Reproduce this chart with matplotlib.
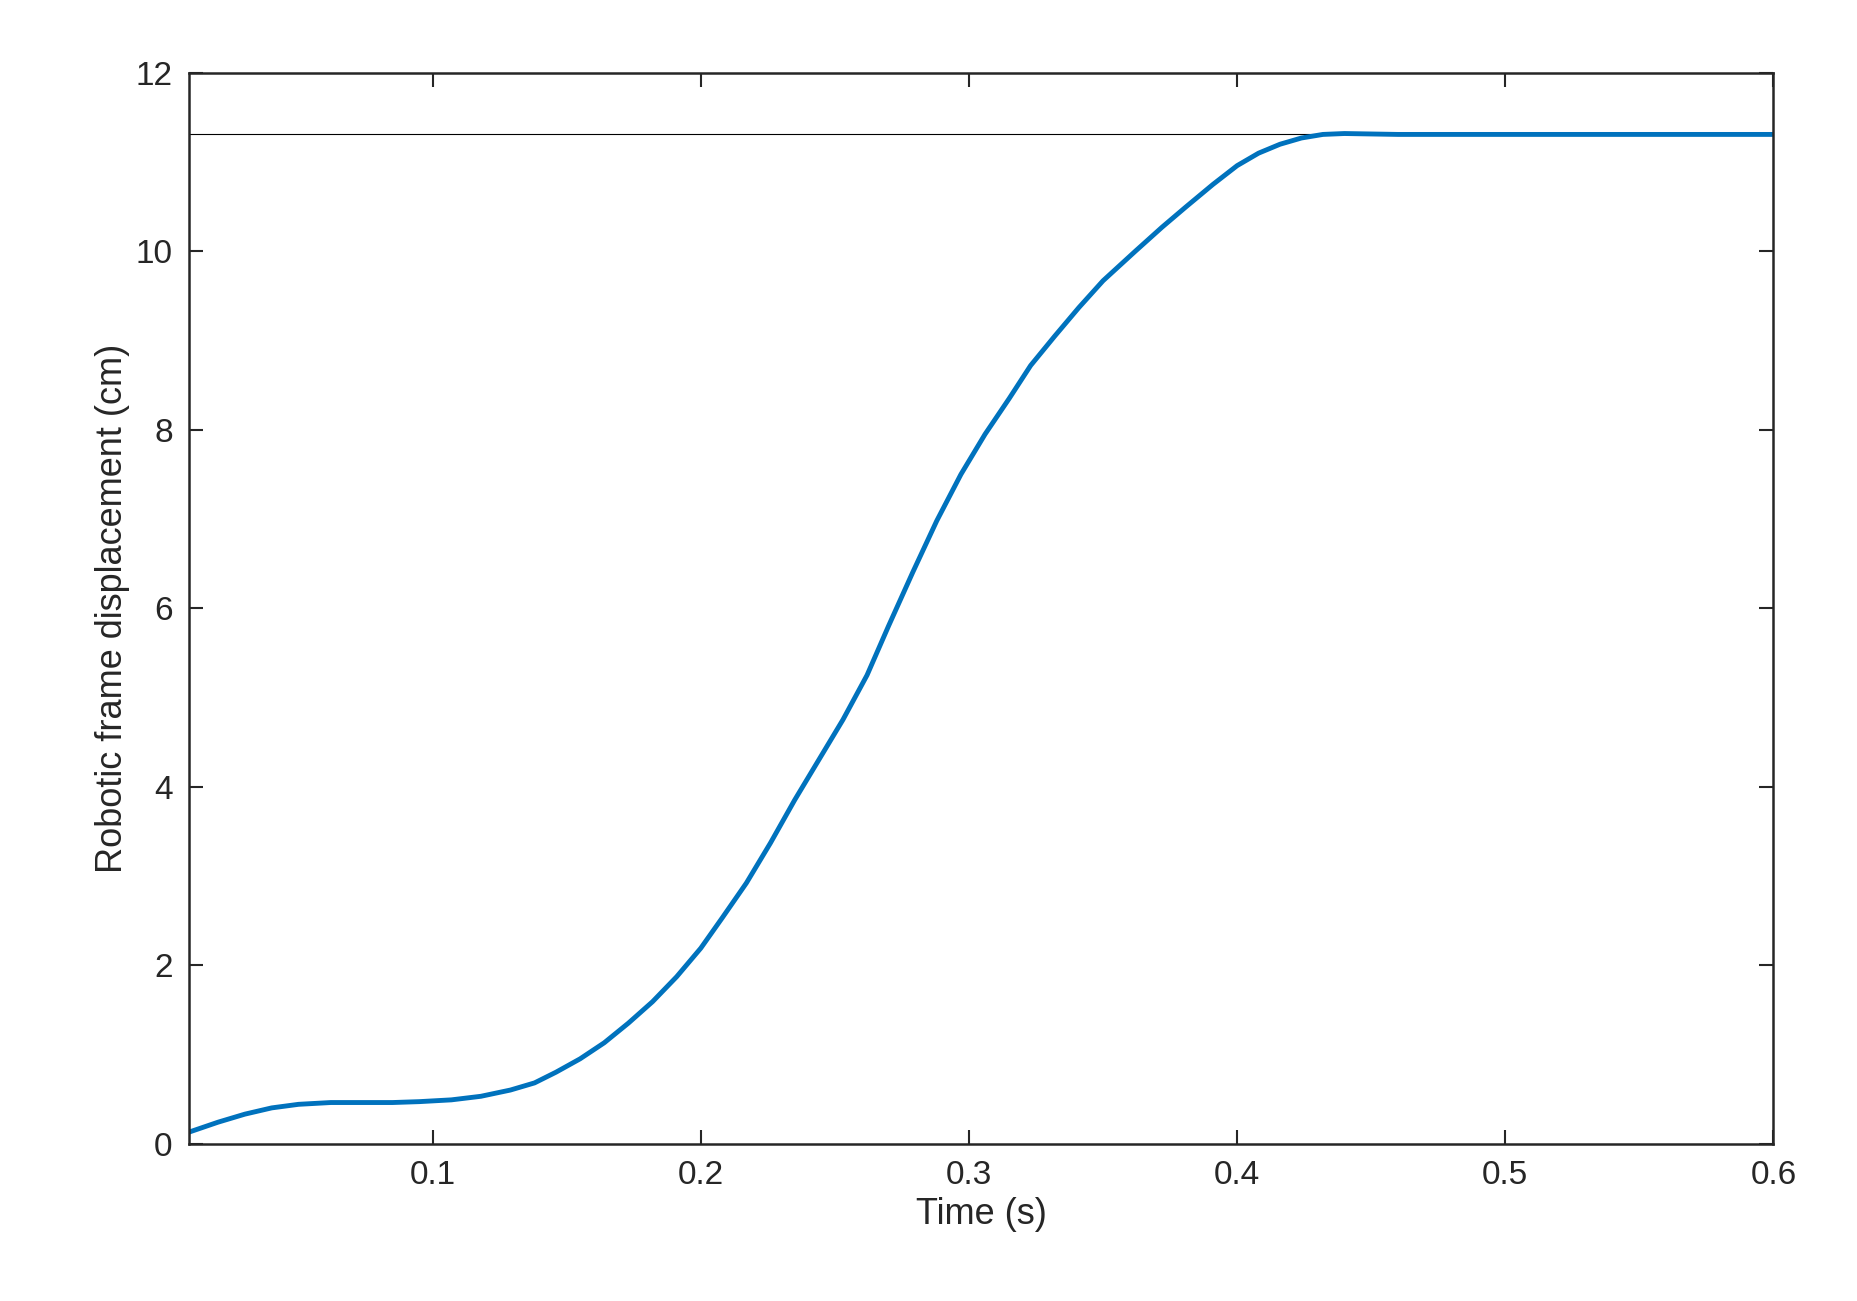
import matplotlib.pyplot as plt

t = [0.0093, 0.02, 0.03, 0.04, 0.05, 0.062, 0.075, 0.085, 0.095, 0.107, 0.118, 0.129,
     0.138, 0.146, 0.155, 0.164, 0.173, 0.182, 0.191, 0.2, 0.208, 0.217, 0.226, 0.235,
     0.244, 0.253, 0.262, 0.270, 0.279, 0.288, 0.297, 0.306, 0.315, 0.323, 0.332, 0.341,
     0.350, 0.362, 0.372, 0.381, 0.391, 0.4, 0.408, 0.416, 0.424, 0.432, 0.44, 0.46, 0.5, 0.55, 0.6]
disp = [0.13, 0.24, 0.33, 0.40, 0.44, 0.46, 0.46, 0.46, 0.47, 0.49, 0.53, 0.60,
        0.68, 0.80, 0.95, 1.13, 1.35, 1.59, 1.87, 2.19, 2.53, 2.92, 3.37, 3.85,
        4.30, 4.75, 5.25, 5.80, 6.40, 6.98, 7.50, 7.95, 8.35, 8.72, 9.05, 9.37,
        9.67, 10.0, 10.27, 10.50, 10.75, 10.96, 11.10, 11.20, 11.27, 11.31, 11.32, 11.31, 11.31, 11.31, 11.31]
ref_level = 11.31

plt.rcParams['font.family'] = ['Liberation Sans', 'DejaVu Sans']
fig = plt.figure(figsize=(18.57, 13.01), dpi=100)
ax = fig.add_axes([0.102, 0.121, 0.853, 0.823])
ax.axhline(ref_level, color='black', lw=0.8)
ax.plot(t, disp, color='#0072BD', lw=3.5)
ax.set_xlim(0.0093, 0.6)
ax.set_ylim(0, 12)
ax.set_xticks([0.1, 0.2, 0.3, 0.4, 0.5, 0.6])
ax.set_xticklabels(['0.1', '0.2', '0.3', '0.4', '0.5', '0.6'])
ax.set_yticks(range(0, 13, 2))
ax.tick_params(direction='in', top=True, right=True, labelsize=24, length=10, width=1.5, pad=12, colors='#262626')
for s in ax.spines.values():
    s.set_linewidth(1.8)
    s.set_color('#262626')
ax.set_xlabel('Time (s)', fontsize=26, color='#262626')
ax.set_ylabel('Robotic frame displacement (cm)', fontsize=26, color='#262626')
fig.savefig('out.png')
